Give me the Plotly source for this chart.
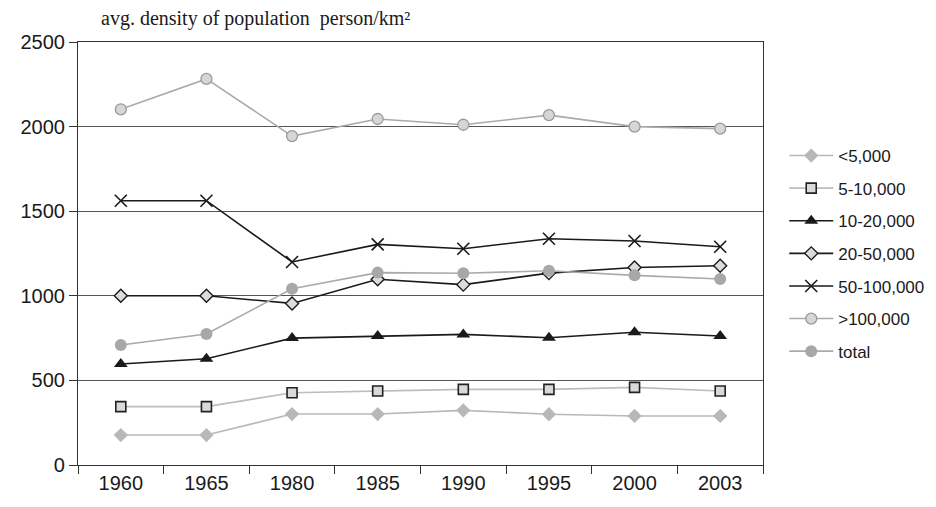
import plotly.graph_objects as go

years = ["1960", "1965", "1980", "1985", "1990", "1995", "2000", "2003"]
lt5k = [177, 177, 301, 301, 323, 300, 290, 290]
k5_10 = [345, 345, 427, 437, 447, 447, 459, 437]
k10_20 = [597, 628, 750, 762, 772, 752, 785, 762]
k20_50 = [1000, 1000, 955, 1098, 1066, 1134, 1167, 1178]
k50_100 = [1562, 1562, 1200, 1304, 1278, 1337, 1324, 1290]
gt100k = [2102, 2282, 1944, 2045, 2011, 2068, 2000, 1988]
total = [709, 774, 1042, 1137, 1133, 1148, 1121, 1099]

series = [
    ("<5,000", lt5k, dict(line=dict(color="#b8b8b8", width=1.6),
                         marker=dict(symbol="diamond", size=11, color="#b8b8b8",
                                     line=dict(width=0)))),
    ("5-10,000", k5_10, dict(line=dict(color="#bdbdbd", width=1.6),
                            marker=dict(symbol="square", size=10, color="#d9d9d9",
                                        line=dict(width=1.6, color="#222222")))),
    ("10-20,000", k10_20, dict(line=dict(color="#1a1a1a", width=1.6),
                              marker=dict(symbol="triangle-up", size=12, color="#1a1a1a",
                                          line=dict(width=0)))),
    ("20-50,000", k20_50, dict(line=dict(color="#1a1a1a", width=1.6),
                              marker=dict(symbol="diamond", size=10, color="#dcdcdc",
                                          line=dict(width=1.4, color="#1a1a1a")))),
    ("50-100,000", k50_100, dict(line=dict(color="#1a1a1a", width=1.6),
                                marker=dict(symbol="x-thin-open", size=12, color="#1a1a1a",
                                            line=dict(width=1.6, color="#1a1a1a")))),
    (">100,000", gt100k, dict(line=dict(color="#aaaaaa", width=1.6),
                             marker=dict(symbol="circle", size=11, color="#d6d6d6",
                                         line=dict(width=1.3, color="#9a9a9a")))),
    ("total", total, dict(line=dict(color="#aaaaaa", width=1.6),
                         marker=dict(symbol="circle", size=12, color="#a8a8a8",
                                     line=dict(width=0)))),
]

fig = go.Figure()
for i, (name, vals, style) in enumerate(series):
    fig.add_trace(go.Scatter(x=years, y=vals, name=name, mode="lines+markers",
                             legendgroup=f"g{i}", **style))

fig.update_layout(
    width=936, height=499,
    margin=dict(l=60, r=181, t=34, b=42),
    paper_bgcolor="white", plot_bgcolor="white",
    font=dict(family="Liberation Sans, Arial, sans-serif", color="#1a1a1a"),
    showlegend=True,
    legend=dict(x=1.031, y=0.773, xanchor="left", yanchor="top",
                font=dict(size=17, color="#1a1a1a"),
                traceorder="grouped", tracegroupgap=7.5,
                bgcolor="rgba(0,0,0,0)", itemwidth=44),
    annotations=[dict(text="avg. density of population  person/km²",
                      xref="paper", yref="paper", x=(89 - 68) / 695, y=1.0,
                      xanchor="left", yanchor="bottom", yshift=10, showarrow=False,
                      font=dict(family="Liberation Serif, Times New Roman, serif",
                                size=20, color="#1a1a1a"))],
)
fig.update_xaxes(type="category", range=[-0.5, 7.5], tickson="boundaries",
                 ticks="outside", ticklen=8, tickcolor="#333333",
                 showline=True, linecolor="#333333", linewidth=1.2, mirror=True,
                 showgrid=False, tickfont=dict(size=20, color="#1a1a1a"))
fig.update_yaxes(range=[0, 2500], tickvals=[0, 500, 1000, 1500, 2000, 2500],
                 ticks="outside", ticklen=8, tickcolor="#333333",
                 showline=True, linecolor="#333333", linewidth=1.2, mirror=True,
                 showgrid=True, gridcolor="#555555", gridwidth=1.2, zeroline=False,
                 tickfont=dict(size=20, color="#1a1a1a"))

fig.write_html("out.html")
